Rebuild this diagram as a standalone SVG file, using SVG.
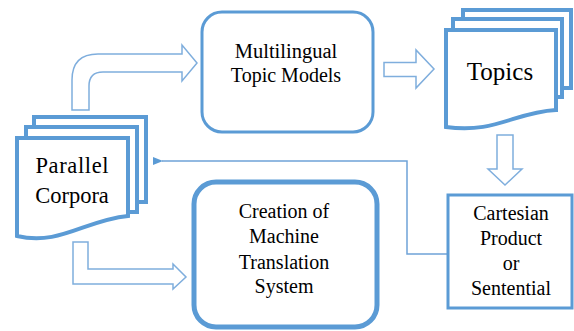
<svg xmlns="http://www.w3.org/2000/svg" width="574" height="331" viewBox="0 0 574 331">
<defs>
<style>
.page{fill:#fff;stroke:#5B9BD5;stroke-width:4;stroke-linejoin:miter}
.box{fill:#fff;stroke:#5B9BD5}
.blk{fill:#fff;stroke:#7FAEDD;stroke-width:1.5;stroke-linejoin:miter}
.t{font-family:'Liberation Serif','Times New Roman',serif;fill:#000;text-anchor:middle}
.conn{fill:none;stroke:#6FA3D8;stroke-width:1.5}
</style>
<marker id="ah" markerWidth="10" markerHeight="8" refX="1" refY="4" orient="auto" markerUnits="userSpaceOnUse">
<path d="M10,0 L0,4 L10,8 Z" fill="#5B9BD5"/>
</marker>
</defs>
<rect width="574" height="331" fill="#fff"/>
<g id="connectors">
<path class="blk" d="M72,110 L72,80 Q72,54 98,54 L182,54 L182,45 L197,63 L182,81 L182,72 L103,72 Q89,72 89,86 L89,110 Z"/>
<path class="blk" d="M384,62.5 L416,62.5 L416,50 L434,69 L416,88 L416,76.5 L384,76.5 Z"/>
<path class="blk" d="M497,135 L513,135 L513,169 L522,169 L505,185 L488,169 L497,169 Z"/>
<path class="blk" d="M73,242 L88,242 L88,269 L173,269 L173,264 L186,277 L173,289 L173,284 L73,284 Z"/>
<path class="conn" d="M448,254 L407,254 L407,161 L162,161" marker-end="url(#ah)"/>
</g>
<g id="parallel-corpora">
<rect class="page" x="34" y="117" width="112" height="85"/>
<rect class="page" x="26" y="127" width="111" height="85"/>
<path class="page" d="M17,138 L128,138 L128,216 C85,220 60,246 17,236 Z"/>
<text class="t" x="72" y="173" font-size="22.5" textLength="73" lengthAdjust="spacing">Parallel</text>
<text class="t" x="72" y="203" font-size="22.5">Corpora</text>
</g>
<g id="multilingual-topic-models">
<rect class="box" x="202" y="12" width="171" height="120" rx="20" stroke-width="3"/>
<text class="t" x="286" y="58" font-size="20.5">Multilingual</text>
<text class="t" x="286" y="82" font-size="20">Topic Models</text>
</g>
<g id="topics">
<rect class="page" x="463" y="10" width="108" height="78"/>
<rect class="page" x="453" y="19" width="109" height="78"/>
<path class="page" d="M446,30 L556,30 L556,110 C515,112 495,134 446,127 Z"/>
<text class="t" x="500" y="80" font-size="25">Topics</text>
</g>
<g id="cartesian-product">
<rect class="box" x="448" y="195" width="124" height="113" stroke-width="3"/>
<text class="t" x="511" y="220" font-size="20">Cartesian</text>
<text class="t" x="511" y="245" font-size="20">Product</text>
<text class="t" x="511" y="270" font-size="20">or</text>
<text class="t" x="511" y="295" font-size="20">Sentential</text>
</g>
<g id="creation-mt-system">
<rect class="box" x="194" y="182" width="183" height="145" rx="22" stroke-width="5"/>
<text class="t" x="284" y="218" font-size="20">Creation of</text>
<text class="t" x="284" y="243" font-size="20">Machine</text>
<text class="t" x="284" y="269" font-size="20">Translation</text>
<text class="t" x="284" y="293" font-size="20">System</text>
</g>
</svg>
